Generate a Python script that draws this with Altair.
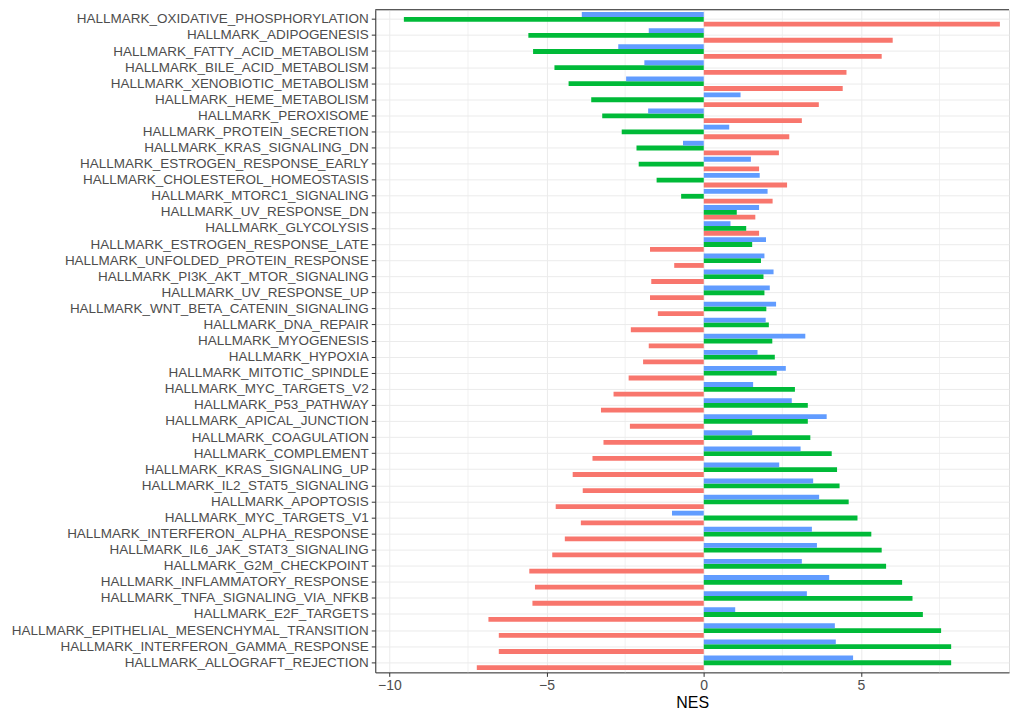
import altair as alt
import pandas as pd

# Pathways, top to bottom
pathways = [
    "HALLMARK_OXIDATIVE_PHOSPHORYLATION",
    "HALLMARK_ADIPOGENESIS",
    "HALLMARK_FATTY_ACID_METABOLISM",
    "HALLMARK_BILE_ACID_METABOLISM",
    "HALLMARK_XENOBIOTIC_METABOLISM",
    "HALLMARK_HEME_METABOLISM",
    "HALLMARK_PEROXISOME",
    "HALLMARK_PROTEIN_SECRETION",
    "HALLMARK_KRAS_SIGNALING_DN",
    "HALLMARK_ESTROGEN_RESPONSE_EARLY",
    "HALLMARK_CHOLESTEROL_HOMEOSTASIS",
    "HALLMARK_MTORC1_SIGNALING",
    "HALLMARK_UV_RESPONSE_DN",
    "HALLMARK_GLYCOLYSIS",
    "HALLMARK_ESTROGEN_RESPONSE_LATE",
    "HALLMARK_UNFOLDED_PROTEIN_RESPONSE",
    "HALLMARK_PI3K_AKT_MTOR_SIGNALING",
    "HALLMARK_UV_RESPONSE_UP",
    "HALLMARK_WNT_BETA_CATENIN_SIGNALING",
    "HALLMARK_DNA_REPAIR",
    "HALLMARK_MYOGENESIS",
    "HALLMARK_HYPOXIA",
    "HALLMARK_MITOTIC_SPINDLE",
    "HALLMARK_MYC_TARGETS_V2",
    "HALLMARK_P53_PATHWAY",
    "HALLMARK_APICAL_JUNCTION",
    "HALLMARK_COAGULATION",
    "HALLMARK_COMPLEMENT",
    "HALLMARK_KRAS_SIGNALING_UP",
    "HALLMARK_IL2_STAT5_SIGNALING",
    "HALLMARK_APOPTOSIS",
    "HALLMARK_MYC_TARGETS_V1",
    "HALLMARK_INTERFERON_ALPHA_RESPONSE",
    "HALLMARK_IL6_JAK_STAT3_SIGNALING",
    "HALLMARK_G2M_CHECKPOINT",
    "HALLMARK_INFLAMMATORY_RESPONSE",
    "HALLMARK_TNFA_SIGNALING_VIA_NFKB",
    "HALLMARK_E2F_TARGETS",
    "HALLMARK_EPITHELIAL_MESENCHYMAL_TRANSITION",
    "HALLMARK_INTERFERON_GAMMA_RESPONSE",
    "HALLMARK_ALLOGRAFT_REJECTION",
]

# NES values per group (same order as pathways)
group1_red = [
    9.42, 6.01, 5.66, 4.54, 4.42, 3.66, 3.12, 2.72, 2.39, 1.76,
    2.65, 2.19, 1.64, 1.76, -1.71, -0.94, -1.67, -1.71, -1.46, -2.32,
    -1.75, -1.93, -2.39, -2.87, -3.27, -2.35, -3.19, -3.54, -4.17, -3.85,
    -4.71, -3.91, -4.42, -4.82, -5.55, -5.37, -5.45, -6.85, -6.52, -6.52,
    -7.22,
]
group2_green = [
    -9.54, -5.58, -5.43, -4.75, -4.30, -3.58, -3.23, -2.61, -2.14, -2.07,
    -1.50, -0.72, 1.05, 1.35, 1.54, 1.82, 1.90, 1.93, 1.99, 2.07,
    2.18, 2.26, 2.32, 2.90, 3.31, 3.31, 3.39, 4.07, 4.24, 4.32,
    4.61, 4.89, 5.33, 5.66, 5.80, 6.31, 6.64, 6.97, 7.55, 7.87,
    7.87,
]
group3_blue = [
    -3.88, -1.75, -2.72, -1.89, -2.47, 1.17, -1.77, 0.81, -0.66, 1.50,
    1.78, 2.03, 1.76, 0.85, 1.98, 1.93, 2.22, 2.10, 2.30, 1.97,
    3.23, 1.71, 2.61, 1.57, 2.80, 3.91, 1.54, 3.08, 2.40, 3.48,
    3.67, -1.01, 3.44, 3.60, 3.12, 3.99, 3.28, 1.00, 4.17, 4.20,
    4.75,
]

series_names = ["Group1", "Group2", "Group3"]
series_colors = ["#F8766D", "#00BA38", "#619CFF"]
x_ticks = [-10, -5, 0, 5]
minor_grid = [-7.5, -2.5, 2.5, 7.5]
x_domain = [-10.45, 9.71]

W = 635
H = 664

rows = []
for i, p in enumerate(pathways):
    for name, vals in zip(series_names, [group1_red, group2_green, group3_blue]):
        rows.append({"pathway": p, "group": name, "NES": vals[i]})
df = pd.DataFrame(rows)

xsc = alt.Scale(domain=x_domain, nice=False, zero=False)
ysc = alt.Scale(domain=pathways, paddingInner=0.1, paddingOuter=0.15)

x_axis = alt.Axis(
    values=x_ticks,
    labelFontSize=14,
    labelColor="#4D4D4D",
    tickColor="#333333",
    tickSize=4,
    domain=True,
    domainColor="#333333",
    gridColor="#EBEBEB",
    labelPadding=2,
    titleFontSize=16,
    titleFontWeight="normal",
    titleColor="#000000",
    titlePadding=2,
)

minor = alt.Chart(pd.DataFrame({"v": minor_grid})).mark_rule(
    color="#EBEBEB", strokeWidth=0.7
).encode(x=alt.X("v:Q", scale=xsc, title="NES", axis=x_axis))

bars = alt.Chart(df).mark_bar().encode(
    x=alt.X("NES:Q", scale=xsc, title="NES", axis=x_axis),
    y=alt.Y(
        "pathway:N",
        scale=ysc,
        sort=pathways,
        title=None,
        axis=alt.Axis(
            labelFontSize=13.5,
            labelColor="#4D4D4D",
            tickColor="#333333",
            tickSize=4,
            domain=True,
            domainColor="#333333",
            grid=True,
            gridColor="#EBEBEB",
            bandPosition=0.5,
            labelPadding=3,
            labelLimit=500,
        ),
    ),
    yOffset=alt.YOffset(
        "group:N",
        scale=alt.Scale(domain=["Group3", "Group2", "Group1"], paddingInner=0, paddingOuter=0),
    ),
    color=alt.Color(
        "group:N",
        scale=alt.Scale(domain=series_names, range=series_colors),
        legend=None,
    ),
)

# top edge of the panel frame (the right edge lies outside the visible area)
top_edge = alt.Chart(pd.DataFrame({"v": [0]})).mark_rule(
    color="#333333", strokeWidth=1
).encode(y=alt.value(0), x=alt.value(0), x2=alt.value(W))

chart = alt.layer(minor, bars, top_edge).properties(
    width=W,
    height=H,
    padding={"left": 3, "top": 0, "right": 0, "bottom": 0},
).configure_view(
    strokeWidth=0
).configure(
    font="Liberation Sans"
)

chart.save("out.html", embed_options={"renderer": "svg", "actions": False})
